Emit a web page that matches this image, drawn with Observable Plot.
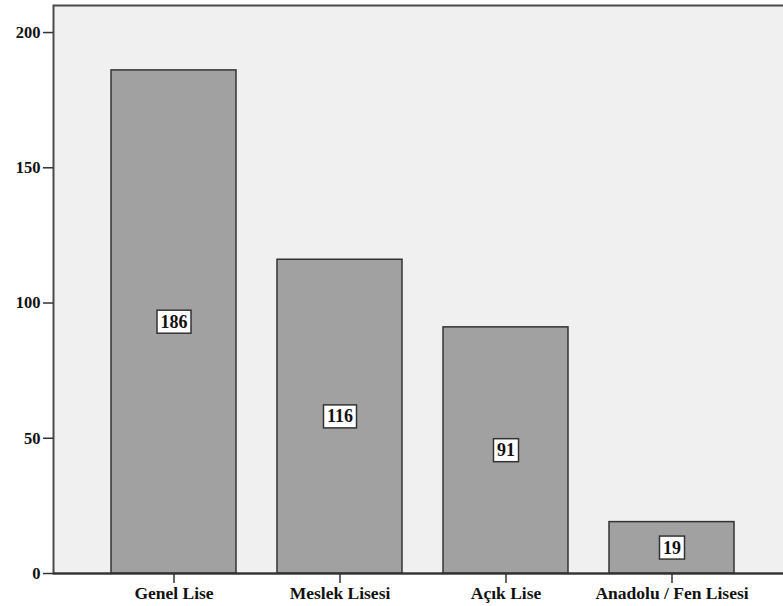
<!DOCTYPE html>
<html>
<head>
<meta charset="utf-8">
<script src="https://cdn.jsdelivr.net/npm/d3@7"></script>
<script src="https://cdn.jsdelivr.net/npm/@observablehq/plot@0.6"></script>
<style>
  html, body { margin: 0; padding: 0; background: #fff; overflow: hidden; }
</style>
</head>
<body>
<div id="chart"></div>
<script>
const categories = ["Genel Lise", "Meslek Lisesi", "Açık Lise", "Anadolu / Fen Lisesi"];
const counts = [186, 116, 91, 19];
const yTicks = [0, 50, 100, 150, 200];

const data = categories.map((c, i) => ({category: c, count: counts[i]}));
const font = "Liberation Serif";

const plot = Plot.plot({
  width: 792,
  height: 606,
  marginLeft: 53,
  marginRight: 0,
  marginTop: 5,
  marginBottom: 33,
  style: {fontFamily: font, maxWidth: "none", background: "#fff", overflow: "hidden"},
  x: {domain: categories, paddingInner: 0.245, paddingOuter: 0.345, label: null},
  y: {domain: [0, 210], label: null},
  marks: [
    Plot.frame({fill: "#f0f0f0", stroke: "#4a4a4a", strokeWidth: 2}),
    Plot.barY(data, {x: "category", y: "count", fill: "#a1a1a1", stroke: "#333", strokeWidth: 1.5}),
    Plot.ruleY([0], {stroke: "#333", strokeWidth: 2}),
    Plot.axisY({ticks: yTicks, tickSize: 10, tickPadding: 3, fontSize: 16.5, fontWeight: "bold", fontFamily: font, fill: "#111", stroke: "#333", strokeWidth: 1.5, label: null}),
    Plot.axisX({tickSize: 10, tickPadding: 3, fontSize: 17.5, fontWeight: "bold", fontFamily: font, fill: "#111", stroke: "#333", strokeWidth: 1.5, label: null}),
    Plot.text(data, {x: "category", y: d => d.count / 2, text: d => String(d.count), fontSize: 18, fontWeight: "bold", fontFamily: font, fill: "#111", className: "vlabel"})
  ]
});
document.getElementById("chart").appendChild(plot);

// white boxes behind value labels
plot.querySelectorAll(".vlabel text").forEach(t => {
  const b = t.getBBox();
  const r = document.createElementNS("http://www.w3.org/2000/svg", "rect");
  r.setAttribute("x", b.x - 3.5);
  r.setAttribute("y", b.y - 1.5);
  r.setAttribute("width", b.width + 7);
  r.setAttribute("height", b.height + 3);
  r.setAttribute("fill", "#fff");
  r.setAttribute("stroke", "#333");
  r.setAttribute("stroke-width", "1.5");
  const tr = t.getAttribute("transform");
  if (tr) r.setAttribute("transform", tr);
  t.parentNode.insertBefore(r, t);
});
</script>
</body>
</html>
